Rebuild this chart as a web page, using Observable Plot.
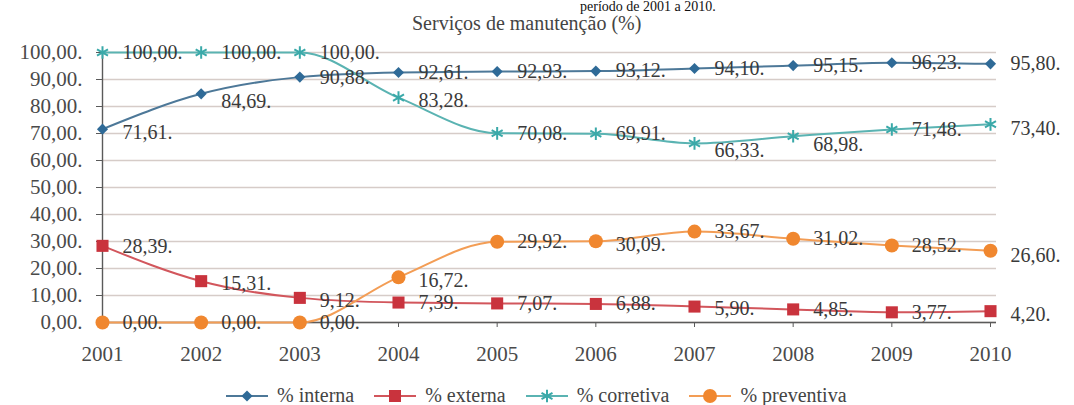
<!DOCTYPE html>
<html><head><meta charset="utf-8">
<script src="https://cdn.jsdelivr.net/npm/d3@7"></script>
<script src="https://cdn.jsdelivr.net/npm/@observablehq/plot@0.6"></script>
<style>
body{margin:0;background:#fff;font-family:"Liberation Serif","Times New Roman",Times,"DejaVu Serif",serif;}
#wrap{position:relative;width:1074px;height:405px;overflow:hidden;background:#fff;}
#t1{position:absolute;top:0px;left:580px;font-size:14px;line-height:13px;color:#111;white-space:nowrap;}
#t2{position:absolute;top:14px;left:412px;font-size:20px;line-height:19px;color:#444;white-space:nowrap;}
#chart{position:absolute;top:0;left:0;}
#legend{position:absolute;top:384px;left:226px;display:flex;align-items:center;gap:20px;font-size:20px;color:#444;white-space:nowrap;}
#legend .it{display:flex;align-items:center;gap:9px;}
</style></head>
<body><div id="wrap">
<div id="t1">período de 2001 a 2010.</div>
<div id="t2">Serviços de manutenção (%)</div>
<div id="chart"></div>
<div id="legend"></div>
</div>
<script>
const years = [2001,2002,2003,2004,2005,2006,2007,2008,2009,2010];
const seriesNames = ["% interna","% externa","% corretiva","% preventiva"];
const interna    = [71.61,84.69,90.88,92.61,92.93,93.12,94.10,95.15,96.23,95.80];
const externa    = [28.39,15.31,9.12,7.39,7.07,6.88,5.90,4.85,3.77,4.20];
const corretiva  = [100.00,100.00,100.00,83.28,70.08,69.91,66.33,68.98,71.48,73.40];
const preventiva = [0.00,0.00,0.00,16.72,29.92,30.09,33.67,31.02,28.52,26.60];
const yTicks = [0,10,20,30,40,50,60,70,80,90,100];

// styling
const FONT = "'Liberation Serif','Times New Roman',Times,'DejaVu Serif',serif";
const seriesValues = [interna, externa, corretiva, preventiva];
const markerColors = ["#2f6a97","#c9333d","#3aa9a9","#f0872f"];
const lineColors   = ["#4d7898","#d2565c","#5ab3b2","#f39d55"];
const symbols      = ["diamond2","square","asterisk","circle"];
const radii        = [5,6.8,6,7];
const labelDy = [
  [3,8,0,0,0,0,0,0,0,0],
  [1,2,3,0,0,0,2,0,0,3],
  [0,0,0,3,0,0,7,8,0,4],
  [0,0,0,3,0,3,0,0,0,5]
];

const fmt = v => v.toFixed(2).replace(".", ",") + ".";

const data = seriesNames.flatMap((s,i) => years.map((y,j) => ({series:s, i, year:y, value:seriesValues[i][j], dy:labelDy[i][j]})));

const marks = [
  Plot.ruleY(yTicks, {stroke:"#d6ccc8", strokeWidth:1.6}),
  Plot.ruleY([0], {stroke:"#5a5a5a", strokeWidth:1.4}),
  Plot.ruleX([years[0]], {y1:0, y2:100, stroke:"#5a5a5a", strokeWidth:1.4}),
  Plot.axisY({ticks:yTicks, tickFormat:fmt, tickSize:6, tickPadding:14, color:"#4a4a4a", stroke:"#5a5a5a", label:null, fontFamily:FONT, fontSize:21}),
  Plot.axisX({ticks:years, tickFormat:d=>String(d), tickSize:5, tickPadding:19, color:"#4a4a4a", stroke:"#5a5a5a", label:null, fontFamily:FONT, fontSize:21})
];
seriesNames.forEach((s,i) => {
  const d = data.filter(e => e.i === i);
  marks.push(Plot.line(d, {x:"year", y:"value", stroke:lineColors[i], strokeWidth:2, curve:"monotone-x"}));
});
seriesNames.forEach((s,i) => {
  const d = data.filter(e => e.i === i);
  if (symbols[i] === "asterisk")
    marks.push(Plot.dot(d, {x:"year", y:"value", symbol:"asterisk", r:radii[i], stroke:markerColors[i], strokeWidth:2}));
  else
    marks.push(Plot.dot(d, {x:"year", y:"value", symbol:symbols[i], r:radii[i], fill:markerColors[i], stroke:"none"}));
});
const dyVals = [...new Set(data.map(d=>d.dy))];
dyVals.forEach(v => {
  marks.push(Plot.text(data.filter(d=>d.dy===v), {x:"year", y:"value", text:d=>fmt(d.value), dx:20, dy:v, textAnchor:"start", fill:"#3a3a3a", fontFamily:FONT, fontSize:20}));
});

const chart = Plot.plot({
  width:1074, height:405,
  marginTop:52, marginBottom:83, marginLeft:102, marginRight:78,
  x:{domain:[2001,2010], insetRight:6, label:null},
  y:{domain:[0,100], label:null},
  style:{fontFamily:FONT, fontSize:"20px", background:"transparent", overflow:"visible"},
  marks
});
document.getElementById("chart").append(chart);

// legend
const leg = document.getElementById("legend");
const symMap = {diamond2:d3.symbolDiamond2, square:d3.symbolSquare, asterisk:d3.symbolAsterisk, circle:d3.symbolCircle};
seriesNames.forEach((s,i) => {
  const it = document.createElement("div"); it.className="it";
  const svg = d3.create("svg").attr("width",42).attr("height",16);
  svg.append("line").attr("x1",0).attr("x2",42).attr("y1",8).attr("y2",8).attr("stroke",lineColors[i]).attr("stroke-width",2);
  const r = radii[i];
  const p = svg.append("path").attr("transform","translate(21,8)").attr("d", d3.symbol(symMap[symbols[i]], Math.PI*r*r)());
  if (symbols[i]==="asterisk") p.attr("fill","none").attr("stroke",markerColors[i]).attr("stroke-width",2);
  else p.attr("fill",markerColors[i]);
  it.append(svg.node());
  const t = document.createElement("span"); t.textContent = s; it.append(t);
  leg.append(it);
});
</script>
</body></html>
